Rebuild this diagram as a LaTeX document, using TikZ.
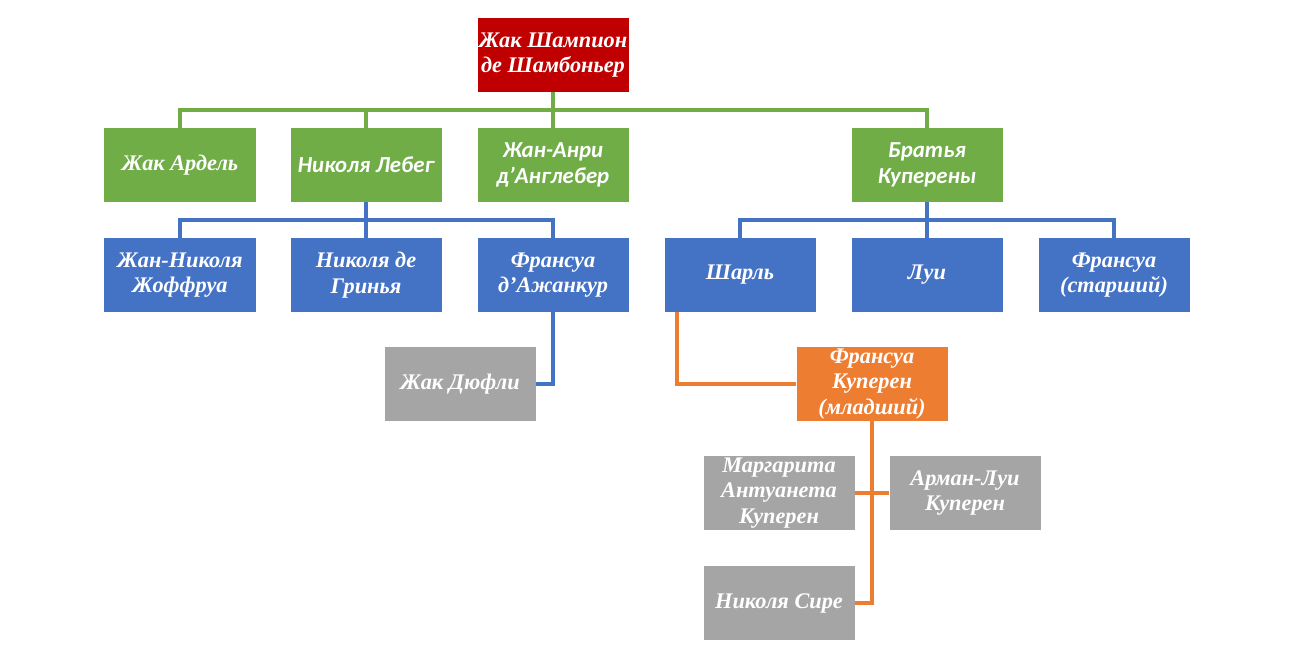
\documentclass[tikz,border=0pt]{standalone}
\usepackage{fontspec}
\setmainfont{Liberation Serif}
\setsansfont{Carlito}
\usepackage{xcolor}
\usepackage{tikz}
\usetikzlibrary{calc}

\definecolor{rootred}{HTML}{C00000}
\definecolor{lvlgreen}{HTML}{70AD47}
\definecolor{lvlblue}{HTML}{4472C4}
\definecolor{lvlorange}{HTML}{ED7D31}
\definecolor{lvlgray}{HTML}{A5A5A5}

\tikzset{
	box/.style={minimum width=3.02cm,minimum height=1.48cm,inner sep=0pt,
		align=center,text=white,
		font=\fontsize{12.7}{14.5}\selectfont\bfseries\itshape},
	sbox/.style={box,font=\fontsize{13}{14.5}\selectfont\sffamily\bfseries\itshape},
	gline/.style={draw=lvlgreen,line width=2pt},
	bline/.style={draw=lvlblue,line width=2pt},
	oline/.style={draw=lvlorange,line width=2pt},
}

\begin{document}
\begin{tikzpicture}[x=0.2mm,y=-0.2mm]
			\useasboundingbox (0,0) rectangle (1290,658);
			% % % % % % % % % % % % % % %
			%верх
			\node[box,fill=rootred] (root) at (553,55) {Жак Шампион\\де Шамбоньер};
			%ученики
			\node[box,fill=lvlgreen] (ardel) at (180,165) {Жак Ардель};
			\node[sbox,fill=lvlgreen] (lebeg) at (366,165) {Николя Лебег};
			\node[sbox,fill=lvlgreen] (anri) at (553,165) {Жан-Анри\\д’Англебер};
			\node[sbox,fill=lvlgreen] (brat) at (927,165) {Братья\\Куперены};
			%следующий ряд
			\node[box,fill=lvlblue] (joffr) at (180,275) {Жан-Николя\\Жоффруа};
			\node[box,fill=lvlblue] (grinya) at (366,275) {Николя де\\Гринья};
			\node[box,fill=lvlblue] (azhan) at (553,275) {Франсуа\\д’Ажанкур};
			\node[box,fill=lvlblue] (sharl) at (740,275) {Шарль};
			\node[box,fill=lvlblue] (lui) at (927,275) {Луи};
			\node[box,fill=lvlblue] (fstar) at (1114,275) {Франсуа\\(старший)};
			%
			\node[box,fill=lvlgray] (dyufli) at (460,384) {Жак Дюфли};
			\node[box,fill=lvlorange] (fmlad) at (872,384) {Франсуа\\Куперен\\(младший)};
			\node[box,fill=lvlgray] (marg) at (779,493) {Маргарита\\Антуанета\\Куперен};
			\node[box,fill=lvlgray] (arman) at (965,493) {Арман-Луи\\Куперен};
			\node[box,fill=lvlgray] (sire) at (779,603) {Николя Сире};
			%шины
			\coordinate (gbus) at (553,110);
			\coordinate (bbusA) at (366,220);
			\coordinate (bbusB) at (927,220);
			%линии
			\draw[gline] (ardel.north) |- (gbus) -| (brat.north);
			\draw[gline] (root.south) -- (anri.north);
			\draw[gline] (lebeg.north) -- (lebeg.north |- gbus);
			\draw[bline] (joffr.north) |- (bbusA) -| (azhan.north);
			\draw[bline] (lebeg.south) -- (grinya.north);
			\draw[bline] (sharl.north) |- (bbusB) -| (fstar.north);
			\draw[bline] (brat.south) -- (lui.north);
			\draw[bline] (azhan.south) |- (dyufli.east);
			\draw[oline] ([xshift=2.6mm]sharl.south west) |- (fmlad.west);
			\draw[oline] (fmlad.south) |- (sire.east);
			\draw[oline] (marg.east) -- (arman.west);
		\end{tikzpicture}
\end{document}
